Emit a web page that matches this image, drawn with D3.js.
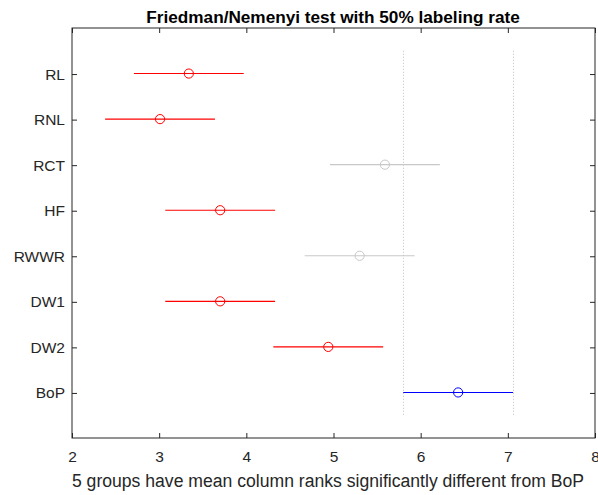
<!DOCTYPE html>
<html>
<head>
<meta charset="utf-8">
<script src="https://cdn.jsdelivr.net/npm/d3@7"></script>
<style>
	body { margin: 0; background: #fff; }
	svg text { font-family: "Liberation Sans", Arial, sans-serif; }
</style>
</head>
<body>
<svg id="chart" width="598" height="495"></svg>
<script>
// groups, top to bottom
var groups = ["RL", "RNL", "RCT", "HF", "RWWR", "DW1", "DW2", "BoP"];
// mean column ranks
var means = [3.34, 3.01, 5.59, 3.70, 5.30, 3.70, 4.94, 6.43];
// comparison interval half-width
var halfWidth = 0.63;
// significance vs BoP: "sig", "ns" or "ref"
var groupSig = ["sig", "sig", "ns", "sig", "ns", "sig", "sig", "ref"];
var xTicks = [2, 3, 4, 5, 6, 7, 8];

var colors = {sig: "#ff0000", ns: "#c8c8c8", ref: "#0000ff"};

var svg = d3.select("#chart");
var plotL = 72, plotR = 595, plotT = 28, plotB = 438;

var x = d3.scaleLinear().domain([2, 8]).range([plotL, plotR]);
var y = d3.scaleLinear().domain([0, groups.length + 1]).range([plotT, plotB]);

// reference lines at the BoP interval
var refIdx = groups.indexOf("BoP");
var refLo = means[refIdx] - halfWidth, refHi = means[refIdx] + halfWidth;
svg.append("g")
   .selectAll("line")
   .data([refLo, refHi])
   .enter()
   .append("line")
   .attr("x1", d=>Math.round(x(d)) + 0.5)
   .attr("x2", d=>Math.round(x(d)) + 0.5)
   .attr("y1", y(0.5))
   .attr("y2", y(groups.length + 0.5))
   .style("stroke", "#c0c0c0")
   .style("stroke-width", 1)
   .style("stroke-dasharray", "1,2");

// intervals
var rows = groups.map((g, i)=>({name: g, mean: means[i], sig: groupSig[i], pos: i + 1}));
var marks = svg.append("g")
	.selectAll(".grp")
	.data(rows)
	.enter()
	.append("g")
	.classed("grp", true);

marks.append("line")
	 .attr("x1", d=>x(d.mean - halfWidth))
	 .attr("x2", d=>x(d.mean + halfWidth))
	 .attr("y1", d=>y(d.pos))
	 .attr("y2", d=>y(d.pos))
	 .style("stroke", d=>colors[d.sig])
	 .style("stroke-width", 1.1);

marks.append("circle")
	 .attr("cx", d=>x(d.mean))
	 .attr("cy", d=>y(d.pos))
	 .attr("r", 4.6)
	 .style("fill", "none")
	 .style("stroke", d=>colors[d.sig])
	 .style("stroke-width", 1);

// axes (MATLAB style: inward ticks, box)
var axisStyle = function(g) {
	g.select(".domain").remove();
	g.selectAll(".tick line").style("stroke", "#262626");
	g.selectAll(".tick text")
	 .style("font-size", "15.5px")
	 .style("fill", "#262626")
	 .attr("font-family", "Liberation Sans, Arial, sans-serif");
};

svg.append("g")
   .attr("transform", "translate(0," + plotB + ")")
   .call(d3.axisBottom(x).tickValues(xTicks).tickFormat(d3.format("d")).tickSizeInner(-5).tickSizeOuter(0).tickPadding(13))
   .call(axisStyle);

svg.append("g")
   .attr("transform", "translate(0," + plotT + ")")
   .call(d3.axisTop(x).tickValues(xTicks).tickFormat("").tickSizeInner(-5).tickSizeOuter(0))
   .call(axisStyle);

var yAxis = d3.axisLeft(y)
	.tickValues(d3.range(1, groups.length + 1))
	.tickFormat(d=>groups[d - 1])
	.tickSizeInner(-5).tickSizeOuter(0).tickPadding(7);

svg.append("g")
   .attr("transform", "translate(" + plotL + ",0.5)")
   .call(yAxis)
   .call(axisStyle);

svg.append("g")
   .attr("transform", "translate(" + plotR + ",0.5)")
   .call(d3.axisRight(y).tickValues(d3.range(1, groups.length + 1)).tickFormat("").tickSizeInner(-5).tickSizeOuter(0))
   .call(axisStyle);

svg.append("rect")
   .attr("x", plotL)
   .attr("y", plotT)
   .attr("width", plotR - plotL)
   .attr("height", plotB - plotT)
   .style("fill", "none")
   .style("stroke", "#262626")
   .style("stroke-width", 1);

// title and label
svg.append("text")
   .attr("x", 333)
   .attr("y", 23)
   .attr("text-anchor", "middle")
   .style("font-size", "17.2px")
   .style("font-weight", "bold")
   .text("Friedman/Nemenyi test with 50% labeling rate");

svg.append("text")
   .attr("x", 328)
   .attr("y", 487)
   .attr("text-anchor", "middle")
   .style("font-size", "17.6px")
   .style("fill", "#262626")
   .text("5 groups have mean column ranks significantly different from BoP");
</script>
</body>
</html>
